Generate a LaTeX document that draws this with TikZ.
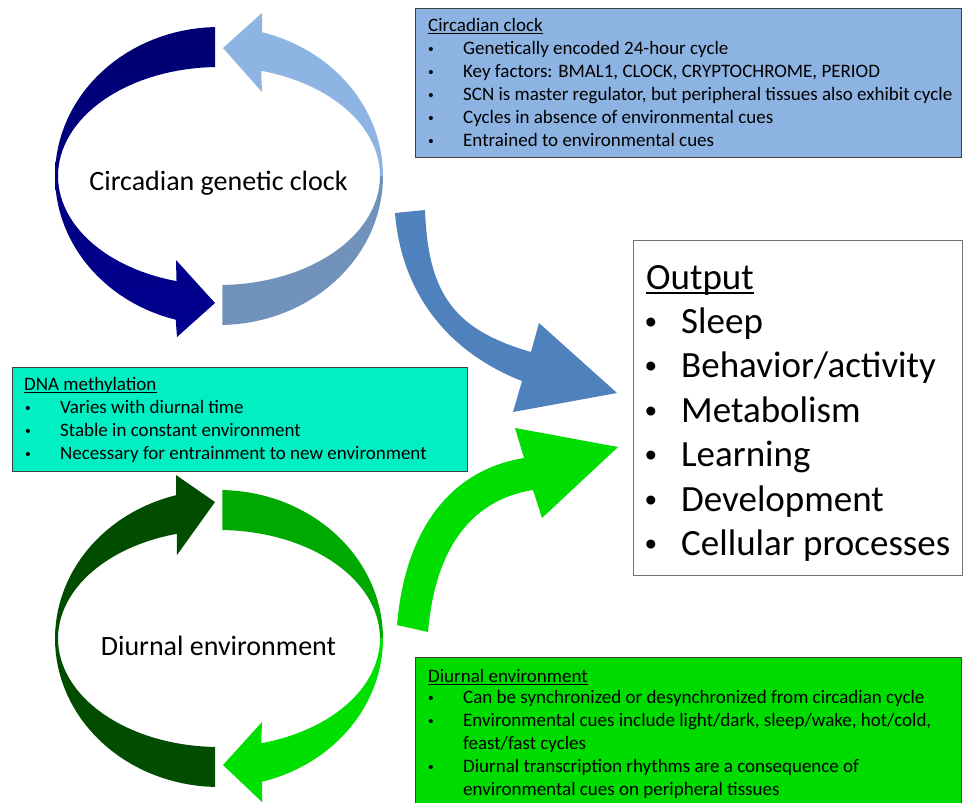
\documentclass[tikz,border=0pt]{standalone}
\usepackage{fontspec}
\setmainfont{Carlito}
\newfontfamily\bulfont{Liberation Sans}
\definecolor{navyT}{HTML}{000072}
\definecolor{navyB}{HTML}{000090}
\definecolor{lbU}{HTML}{8DB4E2}
\definecolor{lbL}{HTML}{7192BB}
\definecolor{dgreen}{HTML}{004D00}
\definecolor{mgreen}{HTML}{00A900}
\definecolor{bgreen}{HTML}{00E000}
\definecolor{bigblue}{HTML}{4F81BD}
\definecolor{biggreen}{HTML}{00DD00}
\definecolor{boxblue}{HTML}{8DB3E2}
\definecolor{boxaqua}{HTML}{00F0C3}
\definecolor{boxgreen}{HTML}{00DC00}
\begin{document}
\begin{tikzpicture}[x=1pt,y=-1pt,
  txt/.style={inner sep=0pt, anchor=base west, font=\fontsize{19}{23}\selectfont},
  bul/.style={inner sep=0pt, anchor=base, font=\bulfont\fontsize{15}{23}\selectfont},
  bigtxt/.style={inner sep=0pt, anchor=base west, font=\fontsize{37}{44}\selectfont},
  bigbul/.style={inner sep=0pt, anchor=base, font=\bulfont\fontsize{33}{44}\selectfont},
  lbl/.style={inner sep=0pt, anchor=base, font=\fontsize{28}{34}\selectfont},
  infobox/.style={draw=black!75, line width=0.8pt},
  uline/.style={line width=0.9pt}]
\useasboundingbox (0,0) rectangle (964,803);
\fill[white] (0,0) rectangle (964,803);

% ---------- top cycle: circadian genetic clock ----------
\shade[top color=navyT, bottom color=navyB]
  plot[domain=268.6:105.3, samples=60] ({219+164*cos(\x)},{176+149*sin(\x)})
  -- (177,337) -- (215,303) -- (176,260)
  -- plot[domain=105.3:268.6, samples=60] ({219+161*cos(\x)},{176+109*sin(\x)}) -- cycle;
\fill[lbL]
  plot[domain=88.8:0, samples=40] ({219+164*cos(\x)},{176+149*sin(\x)})
  -- plot[domain=0:88.8, samples=40] ({219+161*cos(\x)},{176+109*sin(\x)}) -- cycle;
\fill[lbU]
  plot[domain=0:-74.8, samples=40] ({219+164*cos(\x)},{176+149*sin(\x)})
  -- (262,13) -- (223,48) -- (262,92)
  -- plot[domain=-74.8:0, samples=40] ({219+161*cos(\x)},{176+109*sin(\x)}) -- cycle;
\node[lbl] (clocklbl) at (218.5,190) {Circadian genetic clock};

% ---------- bottom cycle: diurnal environment ----------
\fill[dgreen]
  plot[domain=91.4:254.8, samples=60] ({219+164*cos(\x)},{638.5+148.5*sin(\x)})
  -- (176,475) -- (215,502) -- (177,555)
  -- plot[domain=254.8:91.4, samples=60] ({219+161*cos(\x)},{638.5+108.5*sin(\x)}) -- cycle;
\fill[mgreen]
  plot[domain=-88.8:0, samples=40] ({219+164*cos(\x)},{638.5+148.5*sin(\x)})
  -- plot[domain=0:-88.8, samples=40] ({219+161*cos(\x)},{638.5+108.5*sin(\x)}) -- cycle;
\fill[bgreen]
  plot[domain=0:74.8, samples=40] ({219+164*cos(\x)},{638.5+148.5*sin(\x)})
  -- (262,802) -- (223,765) -- (262,722)
  -- plot[domain=74.8:0, samples=40] ({219+161*cos(\x)},{638.5+108.5*sin(\x)}) -- cycle;
\node[lbl] (envlbl) at (218.5,655) {Diurnal environment};

% ---------- big curved arrows ----------
\fill[bigblue] (425,210) .. controls (428,295) and (455,330) .. (531,352)
  -- (539,323) -- (617,393) -- (513,412) -- (522,381)
  .. controls (455,355) and (402,300) .. (395,213) -- cycle;
\fill[biggreen] (397,625) .. controls (405,530) and (450,470) .. (524,458)
  -- (515,428) -- (618,447) -- (542,518) -- (533,490)
  .. controls (470,500) and (435,550) .. (428,632) -- cycle;

% ---------- circadian clock box ----------
\draw[infobox, fill=boxblue] (415,8) rectangle (961,157);
\node[txt] (cct) at (428,31) {Circadian clock};
\draw[uline] ([yshift=-2.5pt]cct.base west) -- ([yshift=-2.5pt]cct.base east);
\node[bul] (ccb1) at (431,54) {•};
\node[bul] (ccb2) at (431,77) {•};
\node[bul] (ccb3) at (431,100) {•};
\node[bul] (ccb4) at (431,123) {•};
\node[bul] (ccb5) at (431,146) {•};
\node[txt] (cc1) at (463,54) {Genetically encoded 24-hour cycle};
\node[txt] (cc2) at (463,77) {Key factors: BMAL1, CLOCK, CRYPTOCHROME, PERIOD};
\node[txt] (cc3) at (463,100) {SCN is master regulator, but peripheral tissues also exhibit cycle};
\node[txt] (cc4) at (463,123) {Cycles in absence of environmental cues};
\node[txt] (cc5) at (463,146) {Entrained to environmental cues};

% ---------- DNA methylation box ----------
\draw[infobox, fill=boxaqua] (12,367) rectangle (467,471);
\node[txt] (dnat) at (24,390) {DNA methylation};
\draw[uline] ([yshift=-2.5pt]dnat.base west) -- ([yshift=-2.5pt]dnat.base east);
\node[bul] (dnab1) at (28,413) {•};
\node[bul] (dnab2) at (28,436) {•};
\node[bul] (dnab3) at (28,459) {•};
\node[txt] (dna1) at (60,413) {Varies with diurnal time};
\node[txt] (dna2) at (60,436) {Stable in constant environment};
\node[txt] (dna3) at (60,459) {Necessary for entrainment to new environment};

% ---------- diurnal environment box ----------
\draw[infobox, fill=boxgreen] (415,657) rectangle (961,812);
\node[txt] (det) at (428,682) {Diurnal environment};
\draw[uline] ([yshift=-2.5pt]det.base west) -- ([yshift=-2.5pt]det.base east);
\node[bul] (deb1) at (431,703) {•};
\node[bul] (deb2) at (431,726) {•};
\node[bul] (deb3) at (431,772) {•};
\node[txt] (de1) at (463,703) {Can be synchronized or desynchronized from circadian cycle};
\node[txt] (de2) at (463,726) {Environmental cues include light/dark, sleep/wake, hot/cold,};
\node[txt] (de3) at (463,749) {feast/fast cycles};
\node[txt] (de4) at (463,772) {Diurnal transcription rhythms are a consequence of};
\node[txt] (de5) at (463,795) {environmental cues on peripheral tissues};

% ---------- output box ----------
\draw[draw=black!55, fill=white, line width=1pt] (633,240) rectangle (962,575);
\node[bigtxt] (outt) at (646,289) {Output};
\draw[line width=1.6pt] ([yshift=-4pt]outt.base west) -- ([yshift=-4pt]outt.base east);
\node[bigbul] (ob1) at (651,333) {•};
\node[bigbul] (ob2) at (651,377.5) {•};
\node[bigbul] (ob3) at (651,422) {•};
\node[bigbul] (ob4) at (651,466.5) {•};
\node[bigbul] (ob5) at (651,511) {•};
\node[bigbul] (ob6) at (651,555.5) {•};
\node[bigtxt] (o1) at (681,333) {Sleep};
\node[bigtxt] (o2) at (681,377.5) {Behavior/activity};
\node[bigtxt] (o3) at (681,422) {Metabolism};
\node[bigtxt] (o4) at (681,466.5) {Learning};
\node[bigtxt] (o5) at (681,511) {Development};
\node[bigtxt] (o6) at (681,555.5) {Cellular processes};
\end{tikzpicture}
\end{document}
